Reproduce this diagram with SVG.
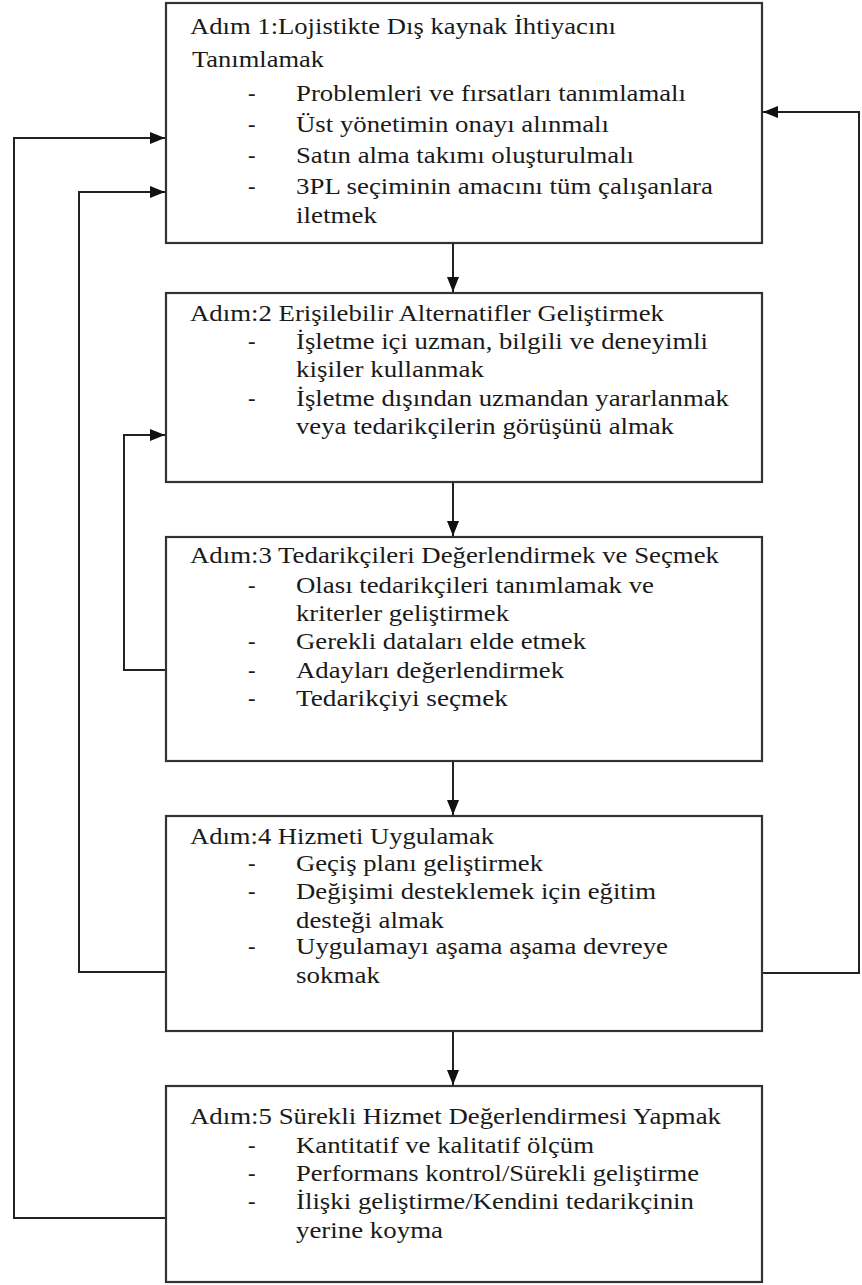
<svg xmlns="http://www.w3.org/2000/svg" width="862" height="1285" viewBox="0 0 862 1285">
<style>
.box{fill:#fff;stroke:#333;stroke-width:2.2}
.con{fill:none;stroke:#222;stroke-width:2}
text{font-family:"Liberation Serif","Times New Roman",serif;font-size:22.5px;fill:#1a1a1a}
</style>
<defs>
<marker id="ah" markerUnits="userSpaceOnUse" markerWidth="16" markerHeight="12" refX="15" refY="6" orient="auto">
<path d="M0,0 L15,6 L0,12 z" fill="#111"/>
</marker>
</defs>
<rect width="862" height="1285" fill="#fff"/>
<g id="connectors">
<path class="con" d="M453,243 V292" marker-end="url(#ah)"/>
<path class="con" d="M453,482 V536" marker-end="url(#ah)"/>
<path class="con" d="M453,761 V815" marker-end="url(#ah)"/>
<path class="con" d="M453,1031 V1085" marker-end="url(#ah)"/>
<path class="con" d="M762,973 H859 V112 H763" marker-end="url(#ah)"/>
<path class="con" d="M166,1218 H14 V138 H165" marker-end="url(#ah)"/>
<path class="con" d="M166,972 H79 V192 H165" marker-end="url(#ah)"/>
<path class="con" d="M166,670 H124 V435 H165" marker-end="url(#ah)"/>
</g>
<g id="step1">
<rect class="box" x="166" y="3" width="596" height="240"/>
<text x="190" y="34" textLength="426" lengthAdjust="spacingAndGlyphs">Adım 1:Lojistikte Dış kaynak İhtiyacını</text>
<text x="192" y="67" textLength="132" lengthAdjust="spacingAndGlyphs">Tanımlamak</text>
<text x="248" y="101">-</text>
<text x="296" y="101" textLength="390" lengthAdjust="spacingAndGlyphs">Problemleri ve fırsatları tanımlamalı</text>
<text x="248" y="132">-</text>
<text x="296" y="132" textLength="313" lengthAdjust="spacingAndGlyphs">Üst yönetimin onayı alınmalı</text>
<text x="248" y="163">-</text>
<text x="296" y="163" textLength="338" lengthAdjust="spacingAndGlyphs">Satın alma takımı oluşturulmalı</text>
<text x="248" y="194">-</text>
<text x="296" y="194" textLength="417" lengthAdjust="spacingAndGlyphs">3PL seçiminin amacını tüm çalışanlara</text>
<text x="296" y="223" textLength="81" lengthAdjust="spacingAndGlyphs">iletmek</text>
</g>
<g id="step2">
<rect class="box" x="166" y="293" width="596" height="189"/>
<text x="190" y="321" textLength="474" lengthAdjust="spacingAndGlyphs">Adım:2 Erişilebilir Alternatifler Geliştirmek</text>
<text x="248" y="349">-</text>
<text x="296" y="349" textLength="412" lengthAdjust="spacingAndGlyphs">İşletme içi uzman, bilgili ve deneyimli</text>
<text x="296" y="377" textLength="188" lengthAdjust="spacingAndGlyphs">kişiler kullanmak</text>
<text x="248" y="406">-</text>
<text x="296" y="406" textLength="433" lengthAdjust="spacingAndGlyphs">İşletme dışından uzmandan yararlanmak</text>
<text x="296" y="434" textLength="378" lengthAdjust="spacingAndGlyphs">veya tedarikçilerin görüşünü almak</text>
</g>
<g id="step3">
<rect class="box" x="166" y="537" width="596" height="224"/>
<text x="190" y="563" textLength="529" lengthAdjust="spacingAndGlyphs">Adım:3 Tedarikçileri Değerlendirmek ve Seçmek</text>
<text x="248" y="593">-</text>
<text x="296" y="593" textLength="358" lengthAdjust="spacingAndGlyphs">Olası tedarikçileri tanımlamak ve</text>
<text x="296" y="621" textLength="213" lengthAdjust="spacingAndGlyphs">kriterler geliştirmek</text>
<text x="248" y="649">-</text>
<text x="296" y="649" textLength="290" lengthAdjust="spacingAndGlyphs">Gerekli dataları elde etmek</text>
<text x="248" y="678">-</text>
<text x="296" y="678" textLength="268" lengthAdjust="spacingAndGlyphs">Adayları değerlendirmek</text>
<text x="248" y="706">-</text>
<text x="296" y="706" textLength="212" lengthAdjust="spacingAndGlyphs">Tedarikçiyi seçmek</text>
</g>
<g id="step4">
<rect class="box" x="166" y="816" width="596" height="215"/>
<text x="190" y="844" textLength="304" lengthAdjust="spacingAndGlyphs">Adım:4 Hizmeti Uygulamak</text>
<text x="248" y="871">-</text>
<text x="296" y="871" textLength="247" lengthAdjust="spacingAndGlyphs">Geçiş planı geliştirmek</text>
<text x="248" y="899">-</text>
<text x="296" y="899" textLength="360" lengthAdjust="spacingAndGlyphs">Değişimi desteklemek için eğitim</text>
<text x="296" y="928" textLength="148" lengthAdjust="spacingAndGlyphs">desteği almak</text>
<text x="248" y="954">-</text>
<text x="296" y="954" textLength="372" lengthAdjust="spacingAndGlyphs">Uygulamayı aşama aşama devreye</text>
<text x="296" y="983" textLength="84" lengthAdjust="spacingAndGlyphs">sokmak</text>
</g>
<g id="step5">
<rect class="box" x="166" y="1086" width="596" height="196"/>
<text x="190" y="1124" textLength="531" lengthAdjust="spacingAndGlyphs">Adım:5 Sürekli Hizmet Değerlendirmesi Yapmak</text>
<text x="248" y="1153">-</text>
<text x="296" y="1153" textLength="298" lengthAdjust="spacingAndGlyphs">Kantitatif ve kalitatif ölçüm</text>
<text x="248" y="1181">-</text>
<text x="296" y="1181" textLength="403" lengthAdjust="spacingAndGlyphs">Performans kontrol/Sürekli geliştirme</text>
<text x="248" y="1209">-</text>
<text x="296" y="1209" textLength="398" lengthAdjust="spacingAndGlyphs">İlişki geliştirme/Kendini tedarikçinin</text>
<text x="296" y="1238" textLength="147" lengthAdjust="spacingAndGlyphs">yerine koyma</text>
</g>
</svg>
